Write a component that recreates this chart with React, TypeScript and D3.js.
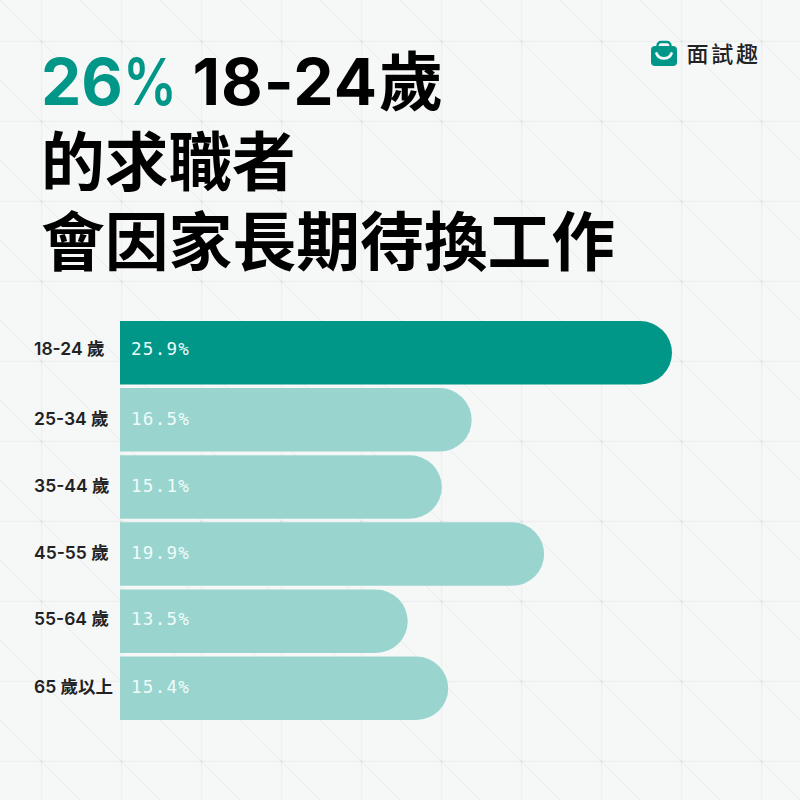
import React from "react";
import * as d3 from "d3";

const categories = ["18-24 歲", "25-34 歲", "35-44 歲", "45-55 歲", "55-64 歲", "65 歲以上"];
const values = [25.9, 16.5, 15.1, 19.9, 13.5, 15.4];
const valueLabels = ["25.9%", "16.5%", "15.1%", "19.9%", "13.5%", "15.4%"];
const titleNumber = "26";
const titlePercent = "%";
const titleAge = "18-24";
const titleAgeUnit = "歲";
const titleLine2 = "的求職者";
const titleLine3 = "會因家長期待換工作";
const brand = "面試趣";

const TEAL = "#009688";
const LIGHT = "#99d5ce";
const BG = "#f6f8f8";
const GRID = "#eeeff0";
const FONT = "Inter, 'Noto Sans CJK TC', sans-serif";
// the reference's row labels do not sit on the bar centres
const rowTextShift = [2.5, 5.5, 5.5, 4.5, 4, 4.5];

export default function App() {
  const x = d3.scaleLinear().domain([0, 25.9]).range([120, 672]);
  const y = d3.scaleBand<string>().domain(categories).range([321, 720]).paddingInner(0.055).paddingOuter(0);
  const bw = y.bandwidth();
  const gridPos = d3.range(-39, 881, 80);
  const r = 32;
  return (
    <svg width={800} height={800} viewBox="0 0 800 800" style={{ position: "fixed", left: 0, top: 0, display: "block" }}>
      <rect width={800} height={800} fill={BG} />
      <g stroke={GRID} strokeWidth={1.4} fill="none">
        {gridPos.map((p) => (
          <React.Fragment key={p}>
            <line x1={p + 0.5} x2={p + 0.5} y1={0} y2={800} />
            <line y1={p + 0.5} y2={p + 0.5} x1={0} x2={800} />
          </React.Fragment>
        ))}
      </g>
      <g stroke="#eeeeef" strokeWidth={1.2} fill="none">
        {d3.range(-800, 801, 80).map((o) => (
          <line key={o} x1={0} y1={o} x2={800} y2={o + 800} />
        ))}
      </g>
      <g fill="#d2d4d5">
        {gridPos.flatMap((a) => gridPos.map((b) => <rect key={a + "-" + b} x={a - 0.25} y={b - 0.25} width={1.5} height={1.5} />))}
      </g>
      <g fill="#eaebec">
        {gridPos.flatMap((a) => gridPos.map((b) => <rect key={a + "c" + b} x={a + 39.5} y={b + 39.5} width={1.5} height={1.5} />))}
      </g>

      <text y={105} fontFamily={FONT} fontSize={64} fontWeight={700} fill="#000">
        <tspan x={41} fill={TEAL}>{titleNumber}</tspan>
        <tspan x={192.5} letterSpacing={1}>{titleAge}</tspan>
        <tspan x={379}>{titleAgeUnit}</tspan>
      </text>
      <text x={123} y={105} fontFamily={FONT} fontSize={64} fontWeight={600} fill={TEAL} textLength={54} lengthAdjust="spacingAndGlyphs">{titlePercent}</text>
      <text x={41} y={185} fontFamily={FONT} fontSize={63.7} fontWeight={700} fill="#000">{titleLine2}</text>
      <text x={41} y={265} fontFamily={FONT} fontSize={63.8} fontWeight={700} fill="#000">{titleLine3}</text>

      <g>
        <path d="M651 50 a4 4 0 0 1 4 -4 h18 a4 4 0 0 1 4 4 v12 a4 4 0 0 1 -4 4 h-18 a4 4 0 0 1 -4 -4 z" fill={TEAL} />
        <path d="M657.5 47 v-1.5 a3.5 3.5 0 0 1 3.5 -3.5 h6 a3.5 3.5 0 0 1 3.5 3.5 v1.5" fill="none" stroke={TEAL} strokeWidth={2.4} />
        <path d="M656.5 53.5 a8 7.5 0 0 0 15 0" fill="none" stroke="#f2fbfa" strokeWidth={2.8} strokeLinecap="round" />
        <text x={686.5} y={62} fontFamily="'Noto Sans CJK TC', sans-serif" fontSize={22} fontWeight={500} fill="#222" letterSpacing={2.8}>{brand}</text>
      </g>

      {categories.map((c, i) => {
        const yy = y(c)!;
        const x1 = x(values[i]);
        const base = yy + bw / 2 + rowTextShift[i];
        const d = `M120 ${yy} H${x1 - r} A${r} ${r} 0 0 1 ${x1} ${yy + r} A${r} ${bw - r} 0 0 1 ${x1 - r} ${yy + bw} H120 Z`;
        return (
          <g key={c}>
            <path d={d} fill={i === 0 ? TEAL : LIGHT} />
            <text x={34} y={base} fontFamily={FONT} fontSize={17.5} fontWeight={600} fill="#222">{c}</text>
            <text x={131} y={base} fontFamily="'DejaVu Sans Mono', monospace" fontSize={17.5} letterSpacing={1.3} fill="#f0fbf9">{valueLabels[i]}</text>
          </g>
        );
      })}
    </svg>
  );
}
